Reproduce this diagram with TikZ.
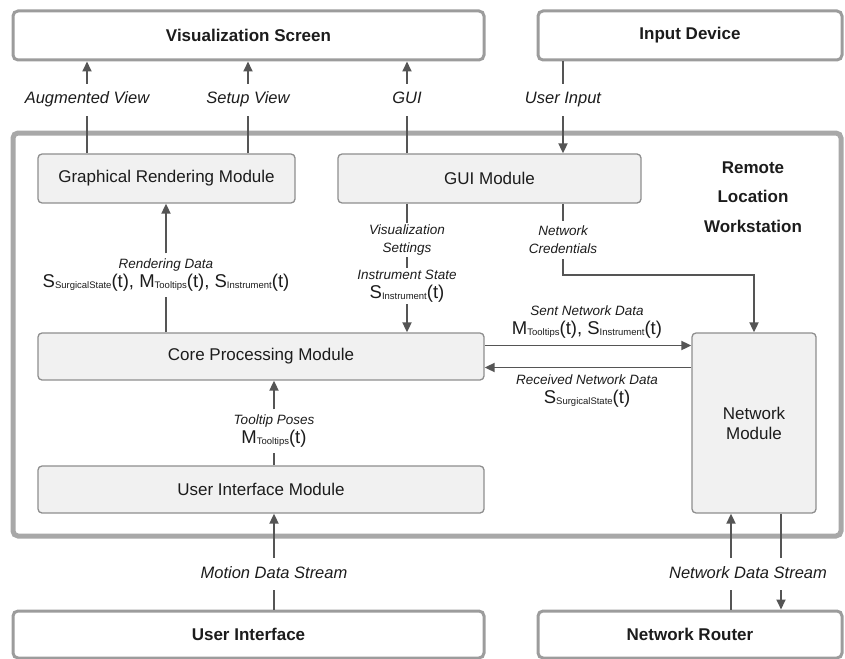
\documentclass[tikz,border=0pt]{standalone}
\usepackage{fontspec}
\setmainfont{Liberation Sans}
\usetikzlibrary{arrows.meta}
\definecolor{boxline}{HTML}{9C9C9C}
\definecolor{outerline}{HTML}{A8A8A8}
\definecolor{modfill}{HTML}{F1F1F1}
\definecolor{modline}{HTML}{8E8E8E}
\definecolor{flow}{HTML}{555555}
\definecolor{ink}{HTML}{1C1C1C}
\newcommand{\sig}[2]{#1{\fontsize{9.5}{9.5}\selectfont\raisebox{-1pt}{#2}}(t)}
\newcommand{\formula}[1]{{\fontsize{18.5}{20}\selectfont\upshape #1}}

\begin{document}
\begin{tikzpicture}[x=1pt, y=-1pt, text=ink,
    device/.style={draw=boxline, line width=3pt, rounded corners=5pt, fill=white,
      font=\fontsize{17}{20}\selectfont\bfseries, inner sep=0pt},
    module/.style={draw=modline, line width=1.3pt, rounded corners=4pt, fill=modfill,
      font=\fontsize{17}{20}\selectfont, inner sep=0pt},
    flowlbl/.style={font=\fontsize{16.5}{19}\selectfont\itshape, text height=12pt,
      text depth=4pt, inner xsep=2pt, inner ysep=8pt},
    datalbl/.style={font=\fontsize{13.5}{18}\selectfont\itshape, align=center, inner sep=5pt},
    ln/.style={draw=flow, line width=1.8pt},
    arr/.style={ln, -{Triangle[length=10pt,width=9pt]}}]
  \useasboundingbox (0,0) rectangle (845,658);

  % outside devices
  \node[device, minimum width=471pt, minimum height=49pt] (vs) at (248.5,35.5) {Visualization Screen};
  \node[device, minimum width=304pt, minimum height=49pt] (idev) at (690,35.5) {Input Device};
  \node[device, minimum width=471pt, minimum height=47pt] (ui) at (248.5,634.5) {User Interface};
  \node[device, minimum width=304pt, minimum height=47pt] (rt) at (690,634.5) {Network Router};

  % workstation
  \node[draw=outerline, line width=5pt, rounded corners=5pt, minimum width=828pt,
    minimum height=403pt] (rlw) at (427,334.5) {};
  \node[font=\fontsize{17}{29.5}\selectfont\bfseries, align=center] (rlwlbl) at (753,197)
    {Remote\\Location\\Workstation};

  % modules
  \node[module, minimum width=257pt, minimum height=49pt] (grm) at (166.5,178.5) {Graphical Rendering Module};
  \node[module, minimum width=303pt, minimum height=49pt] (gui) at (489.5,178.5) {GUI Module};
  \node[module, minimum width=446pt, minimum height=47pt] (core) at (261,356.5) {Core Processing Module};
  \node[module, minimum width=446pt, minimum height=47pt] (uim) at (261,489.5) {User Interface Module};
  \node[module, minimum width=124pt, minimum height=180pt, align=center] (nm) at (754,423) {Network\\Module};

  % labels
  \node[flowlbl] (lav) at (87,100) {Augmented View};
  \node[flowlbl] (lsv) at (248,100) {Setup View};
  \node[flowlbl] (lgui) at (407,100) {GUI};
  \node[flowlbl] (lui) at (563,100) {User Input};
  \node[flowlbl] (lmd) at (274,574) {Motion Data Stream};
  \node[flowlbl] (lnd) at (748,574) {Network Data Stream};
  \node[datalbl, inner ysep=2pt] (lvs) at (407,240) {Visualization\\Settings};
  \node[datalbl, inner ysep=2pt] (lis) at (407,286) {Instrument State\\[1pt]\formula{\sig{S}{Instrument}}};
  \node[datalbl] (lnc) at (563,240) {Network\\Credentials};
  \node[datalbl] (lrd) at (166,275)
    {Rendering Data\\[1pt]\formula{\sig{S}{SurgicalState}, \sig{M}{Tooltips}, \sig{S}{Instrument}}};
  \node[datalbl] (lsent) at (587,322) {Sent Network Data\\[1pt]\formula{\sig{M}{Tooltips}, \sig{S}{Instrument}}};
  \node[datalbl] (lrecv) at (587,391) {Received Network Data\\[1pt]\formula{\sig{S}{SurgicalState}}};
  \node[datalbl] (ltp) at (274,431) {Tooltip Poses\\[1pt]\formula{\sig{M}{Tooltips}}};

  \coordinate (ncbend) at (563,275);
  \coordinate (xup) at (731,0);
  \coordinate (xdn) at (781,0);

  % to the screen and from the input device
  \draw[ln] (grm.north -| lav) -- (lav);
  \draw[arr] (lav) -- (vs.south -| lav);
  \draw[ln] (grm.north -| lsv) -- (lsv);
  \draw[arr] (lsv) -- (vs.south -| lsv);
  \draw[ln] (gui.north -| lgui) -- (lgui);
  \draw[arr] (lgui) -- (vs.south -| lgui);
  \draw[ln] (idev.south -| lui) -- (lui);
  \draw[arr] (lui) -- (gui.north -| lui);

  % inside the workstation
  \draw[ln] (core.north -| lrd) -- (lrd);
  \draw[arr] (lrd) -- (grm.south -| lrd);
  \draw[ln] (gui.south -| lvs) -- (lvs);
  \draw[ln] (lvs) -- (lis);
  \draw[arr] (lis) -- (core.north -| lis);
  \draw[ln] (gui.south -| lnc) -- (lnc);
  \draw[arr] (lnc) -- (ncbend) -| (nm.north);
  \draw[arr] ([yshift=11pt]core.east) -- ([yshift=11pt]core.east -| nm.west);
  \draw[arr] ([yshift=-11pt]core.east -| nm.west) -- ([yshift=-11pt]core.east);
  \draw[ln] (uim.north -| ltp) -- (ltp);
  \draw[arr] (ltp) -- (core.south -| ltp);

  % streams from below
  \draw[ln] (ui.north -| lmd) -- (lmd);
  \draw[arr] (lmd) -- (uim.south -| lmd);
  \draw[ln] (rt.north -| xup) -- (lnd.south -| xup);
  \draw[arr] (lnd.north -| xup) -- (nm.south -| xup);
  \draw[ln] (nm.south -| xdn) -- (lnd.north -| xdn);
  \draw[arr] (lnd.south -| xdn) -- (rt.north -| xdn);
\end{tikzpicture}
\end{document}
